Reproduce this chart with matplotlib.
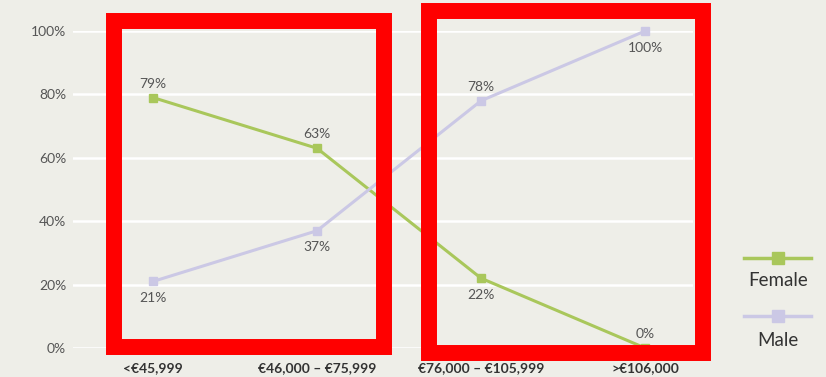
import matplotlib.pyplot as plt
from matplotlib.lines import Line2D
from matplotlib.patches import Rectangle

categories = ["<€45,999", "€46,000 – €75,999", "€76,000 – €105,999", ">€106,000"]
female = [79, 63, 22, 0]
male = [21, 37, 78, 100]
female_pos = ["above", "above", "below", "above"]
male_pos = ["below", "below", "above", "below"]
yticks = [0, 20, 40, 60, 80, 100]

bg = "#eeeee8"
green = "#a9c75b"
lav = "#cbc8e5"
W, H = 826, 377

plt.rcParams["font.family"] = ["Lato", "DejaVu Sans"]

fig = plt.figure(figsize=(W / 100, H / 100), dpi=100, facecolor=bg)
# axes placed in pixel terms: x 73..693, y 31..348 (from top)
ax = fig.add_axes([73 / W, 1 - 348 / H, 620 / W, 317 / H])
ax.set_facecolor(bg)
x = list(range(len(categories)))
ax.set_xlim(-0.488, 3.292)
ax.set_ylim(0, 100)

for s in ax.spines.values():
    s.set_visible(False)
ax.set_yticks(yticks)
ax.set_yticklabels([f"{v}%" for v in yticks], fontsize=10, color="#555555")
ax.set_xticks(x)
ax.set_xticklabels(categories, fontsize=10, color="#333333", fontweight="bold")
ax.tick_params(length=0)
ax.tick_params(axis="y", pad=5)
ax.tick_params(axis="x", pad=10)
ax.grid(axis="y", color="white", linewidth=1.8)
ax.set_axisbelow(True)

ax.plot(x, female, color=green, lw=2.2, marker="s", ms=6, clip_on=False, zorder=3)
ax.plot(x, male, color=lav, lw=2.2, marker="s", ms=6, clip_on=False, zorder=3)

for vals, pos in [(female, female_pos), (male, male_pos)]:
    for i, (v, p) in enumerate(zip(vals, pos)):
        off = 10 if p == "above" else -12
        ax.annotate(f"{v}%", (i, v), xytext=(0, off), textcoords="offset points",
                    ha="center", va="center", fontsize=10, color="#555555",
                    annotation_clip=False)

# legend drawn by hand
for yl, yt, col, name in [(258, 281, green, "Female"), (316, 340, lav, "Male")]:
    fig.add_artist(Line2D([744 / W, 811 / W], [1 - yl / H] * 2, color=col, lw=2.5,
                          transform=fig.transFigure))
    fig.add_artist(Line2D([778 / W], [1 - yl / H], color=col, marker="s", ms=8,
                          transform=fig.transFigure))
    fig.text(778 / W, 1 - yt / H, name, ha="center", va="center", fontsize=13.5,
             color="#333333")

# red highlight boxes
for x0, y0, x1, y1 in [(114, 21, 384, 347), (428.5, 11, 703, 353)]:
    fig.add_artist(Rectangle((x0 / W, 1 - y1 / H), (x1 - x0) / W, (y1 - y0) / H,
                             fill=False, edgecolor="red", lw=11.5,
                             joinstyle="miter", transform=fig.transFigure, zorder=10))

fig.savefig("out.png", dpi=100, facecolor=bg)
